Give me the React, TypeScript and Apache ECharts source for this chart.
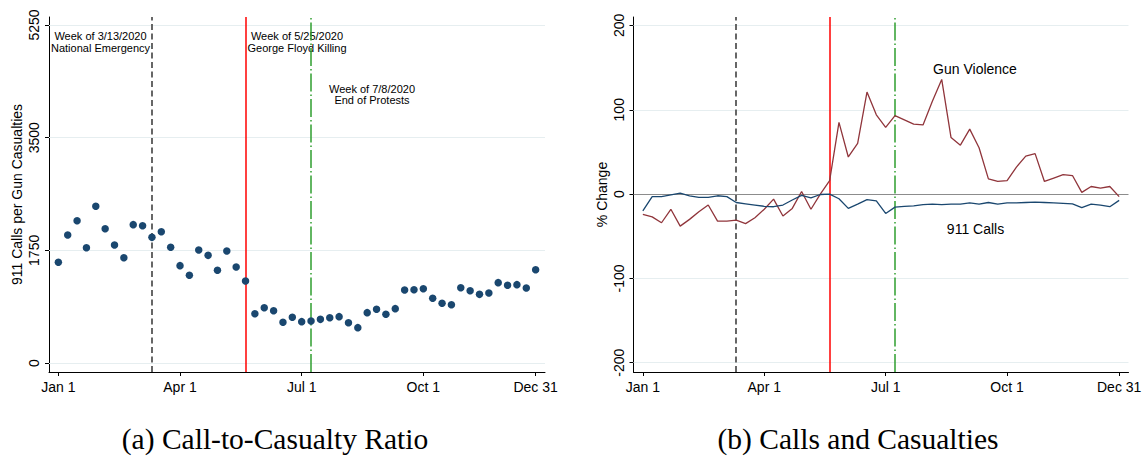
import { useEffect, useRef } from "react";
import * as echarts from "echarts";

// Week index 0..51 of 2020 on the x axis, with date labels at selected weeks
const tickWeeks = [0, 13, 26, 39, 51];
const tickLabels = ["Jan 1", "Apr 1", "Jul 1", "Oct 1", "Dec 31"];

// y ticks of each panel
const ratioTicks = [0, 1750, 3500, 5250];
const pctTicks = [-200, -100, 0, 100, 200];

// event weeks: national emergency, George Floyd killing, end of protests
const eventWeeks = [10, 20, 27];

// (a) weekly 911 calls per gun casualty
const callRatio = [
  1564, 1988, 2210, 1791, 2434, 2086, 1833, 1636, 2149, 2133, 1952, 2040, 1797,
  1512, 1362, 1755, 1672, 1440, 1740, 1491, 1274, 766, 859, 812, 632, 710,
  642, 652, 678, 704, 720, 626, 549, 782, 834, 756, 844, 1134, 1139, 1154,
  1005, 927, 906, 1170, 1123, 1066, 1087, 1248, 1207, 1217, 1165, 1449,
];

// (b) % change vs. prior year, gun violence casualties
const gunViolence = [
  -24, -27, -34, -18, -38, -30, -21, -13, -32, -32, -31, -35, -28, -18, -6,
  -26, -17, 3, -18, 0, 16, 85, 44, 60, 121, 94, 79, 93, 88, 83, 82, 110, 136,
  67, 58, 77, 55, 18, 15, 16, 32, 45, 48, 15, 19, 23, 22, 2, 9, 7, 9, -3,
];

// (b) % change vs. prior year, 911 calls
const calls911 = [
  -20, -3, -3, -1, 1, -2, -4, -4, -2, -3, -10, -11.5, -13, -14.5, -15, -13, -7,
  -1.5, -4.5, -0.5, 0, -5.5, -17, -12, -6.5, -8, -23, -15.5, -14.5, -14, -12.5,
  -12, -12.5, -12, -12, -10.5, -12, -10, -12, -10.5, -10.5, -10, -9.5, -10,
  -10.5, -11, -11.5, -16, -12, -13, -15, -7.5,
];

const SANS = "'Liberation Sans', Arial, Helvetica, sans-serif";
const SERIF = "'Liberation Serif', 'Times New Roman', serif";

const eventStyles = [
  { color: "#4d4d4d", width: 1.7, type: [6, 3.5] },
  { color: "#ff0000", width: 1.5, type: "solid" },
  { color: "#2f9e2f", width: 1.5, type: [18, 3, 1.5, 3] },
];

const pairs = (vals: number[]) => vals.map((v, i) => [i, v]);

function xAxisFor(gridIndex: number) {
  return {
    type: "value",
    gridIndex,
    min: -1,
    max: 52,
    axisLine: { onZero: false, lineStyle: { color: "#000", width: 1 } },
    axisTick: {
      customValues: tickWeeks,
      length: 4,
      lineStyle: { color: "#000", width: 1 },
    },
    axisLabel: {
      customValues: tickWeeks,
      formatter: (v: number) => tickLabels[tickWeeks.indexOf(v)] ?? "",
      color: "#000",
      fontSize: 14,
      fontFamily: SANS,
      margin: 8,
    },
    splitLine: { show: false },
  };
}

function yAxisFor(
  gridIndex: number,
  min: number,
  max: number,
  ticks: number[],
  name: string
) {
  return {
    type: "value",
    gridIndex,
    min,
    max,
    name,
    nameLocation: "middle",
    nameRotate: 90,
    nameGap: 25,
    nameTextStyle: { color: "#000", fontSize: 14, fontFamily: SANS },
    axisLine: { show: true, onZero: false, lineStyle: { color: "#000", width: 1 } },
    axisTick: {
      show: true,
      customValues: ticks,
      length: 4,
      lineStyle: { color: "#000", width: 1 },
    },
    axisLabel: {
      customValues: ticks,
      formatter: (v: number) => String(v),
      rotate: 90,
      color: "#000",
      fontSize: 14,
      fontFamily: SANS,
      margin: 8,
    },
    splitLine: { show: false },
  };
}

// reference lines drawn by an empty helper series; one style per series
function refLines(
  axisIndex: number,
  items: Array<{ xAxis?: number; yAxis?: number }>,
  lineStyle: Record<string, unknown>,
  z: number
) {
  return {
    type: "line",
    xAxisIndex: axisIndex,
    yAxisIndex: axisIndex,
    data: [],
    z,
    silent: true,
    color: lineStyle.color,
    markLine: {
      silent: true,
      symbol: ["none", "none"],
      label: { show: false },
      emphasis: { disabled: true },
      lineStyle,
      data: items,
    },
  };
}

function panelRefLines(axisIndex: number, gridValues: number[]) {
  return [
    refLines(
      axisIndex,
      gridValues.map((v) => ({ yAxis: v })),
      { color: "#e6eef0", width: 1, type: "solid" },
      1
    ),
    ...eventWeeks.map((w, i) => refLines(axisIndex, [{ xAxis: w }], eventStyles[i], 3)),
  ];
}

function label(text: string, x: number, y: number, fontSize: number, lineHeight?: number, family = SANS) {
  return {
    type: "text",
    x,
    y,
    silent: true,
    style: {
      text,
      fill: "#000",
      fontSize,
      fontFamily: family,
      lineHeight: lineHeight ?? fontSize,
      align: "center",
      verticalAlign: "middle",
      textAlign: "center",
      textVerticalAlign: "middle",
    },
  };
}

export default function App() {
  const ref = useRef<HTMLDivElement>(null);

  useEffect(() => {
    document.body.style.margin = "0";
    const chart = echarts.init(ref.current!, null, { renderer: "svg" });
    chart.setOption({
      animation: false,
      backgroundColor: "#ffffff",
      grid: [
        { left: 49, top: 17, width: 496, height: 355 },
        { left: 633.5, top: 17, width: 495, height: 355 },
      ],
      xAxis: [xAxisFor(0), xAxisFor(1)],
      yAxis: [
        yAxisFor(0, -140, 5375, ratioTicks, "911 Calls per Gun Casualties"),
        yAxisFor(1, -211, 210, pctTicks, "% Change"),
      ],
      series: [
        ...panelRefLines(0, ratioTicks),
        {
          type: "scatter",
          xAxisIndex: 0,
          yAxisIndex: 0,
          data: pairs(callRatio),
          symbol: "circle",
          symbolSize: 7.5,
          itemStyle: { color: "#1a476f", opacity: 1 },
          z: 5,
        },
        ...panelRefLines(1, pctTicks.filter((v) => v !== 0)),
        refLines(1, [{ yAxis: 0 }], { color: "#8c8c8c", width: 1, type: "solid" }, 2),
        {
          type: "line",
          xAxisIndex: 1,
          yAxisIndex: 1,
          data: pairs(gunViolence),
          showSymbol: false,
          lineStyle: { color: "#90353b", width: 1.3 },
          z: 5,
        },
        {
          type: "line",
          xAxisIndex: 1,
          yAxisIndex: 1,
          data: pairs(calls911),
          showSymbol: false,
          lineStyle: { color: "#1a476f", width: 1.3 },
          z: 5,
        },
      ],
      graphic: [
        label("Week of 3/13/2020\nNational Emergency", 100.5, 42, 11, 12),
        label("Week of 5/25/2020\nGeorge Floyd Killing", 297, 42, 11, 12),
        label("Week of 7/8/2020\nEnd of Protests", 372, 94, 11, 11),
        label("Gun Violence", 975, 68.5, 14),
        label("911 Calls", 975.5, 228.5, 14),
        label("(a) Call-to-Casualty Ratio", 275, 439, 29.5, 29.5, SERIF),
        label("(b) Calls and Casualties", 858, 439, 29.5, 29.5, SERIF),
      ],
    });
    return () => chart.dispose();
  }, []);

  return <div ref={ref} style={{ width: 1146, height: 462 }} />;
}
